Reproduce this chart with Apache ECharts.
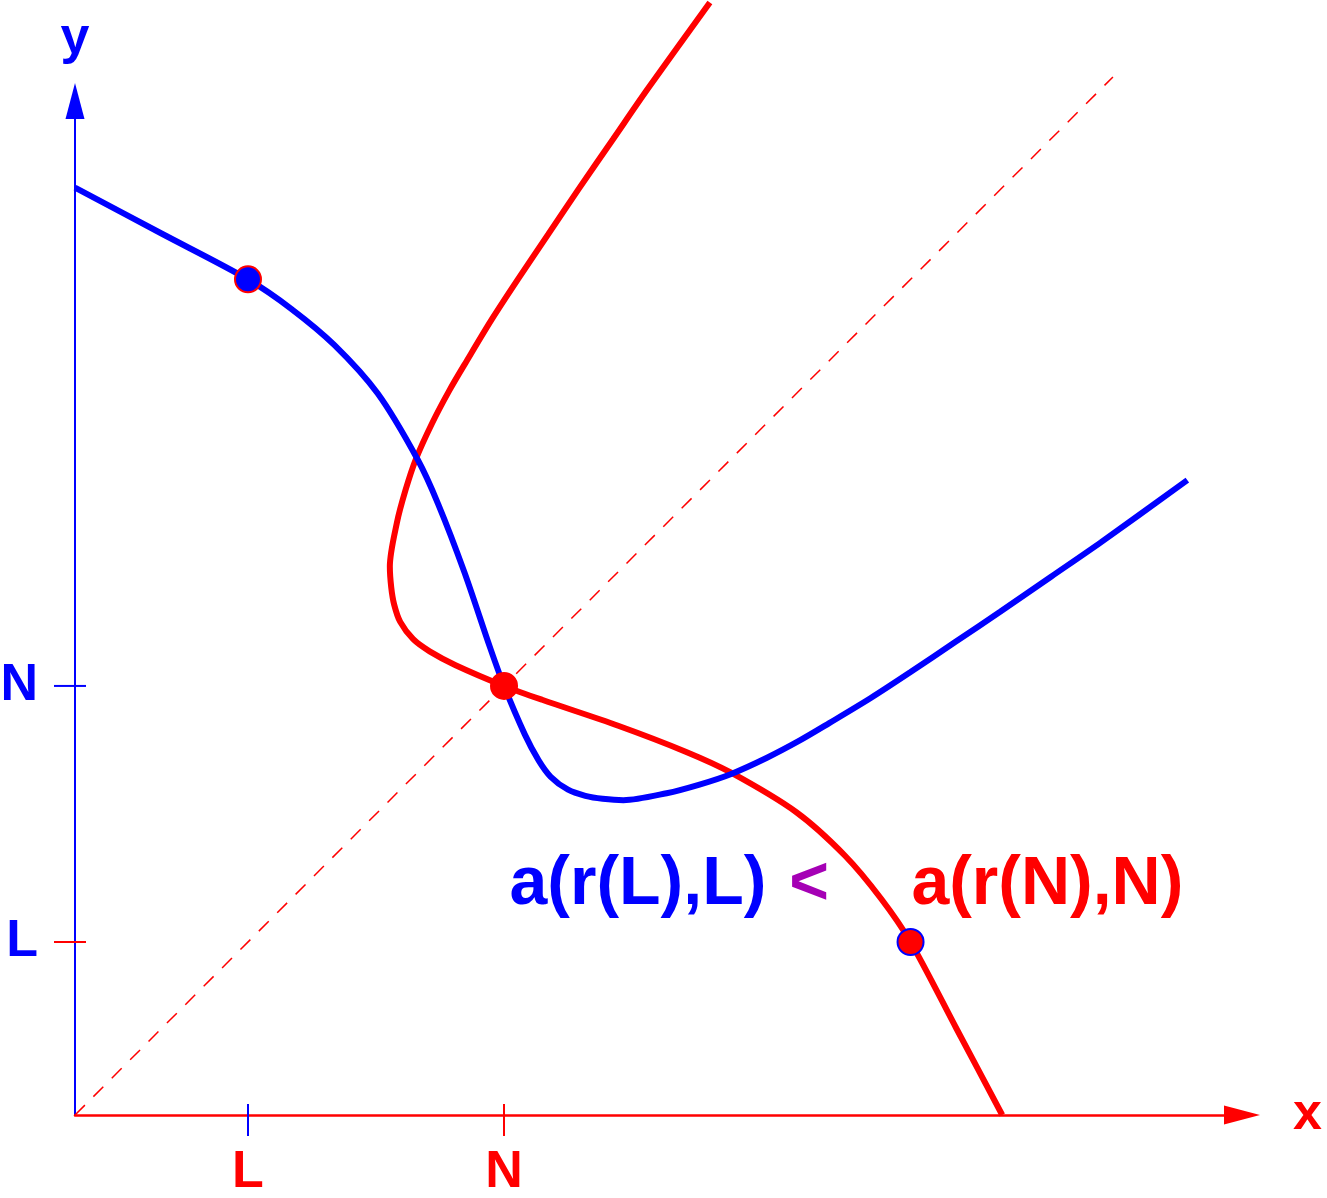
<!DOCTYPE html>
<html>
<head>
<meta charset="utf-8">
<script src="https://cdn.jsdelivr.net/npm/echarts@6/dist/echarts.min.js"></script>
<style>
  html, body { margin: 0; padding: 0; background: #ffffff; }
  #chart { width: 1327px; height: 1198px; }
</style>
</head>
<body>
<div id="chart"></div>
<script>
// Tick positions on both axes
const L = 1.0;
const N = 2.48;

// Axis extents
const X_MAX = 6.746;
const Y_MAX = 5.861;

// Blue curve y(x)
const blueCurve = [
  [0.00, 5.36], [0.50, 5.095], [1.00, 4.83], [1.25, 4.66], [1.50, 4.45],
  [1.75, 4.17], [1.98, 3.79], [2.10, 3.53], [2.25, 3.14], [2.40, 2.70],
  [2.48, 2.48], [2.60, 2.20], [2.68, 2.05], [2.75, 1.955], [2.85, 1.88],
  [2.95, 1.845], [3.05, 1.828], [3.17, 1.82], [3.42, 1.86], [3.61, 1.91],
  [3.79, 1.97], [4.00, 2.065], [4.19, 2.165], [4.36, 2.265], [4.60, 2.41],
  [4.83, 2.56], [5.09, 2.735], [5.35, 2.91], [5.64, 3.11], [5.93, 3.31],
  [6.43, 3.67]
];

// Red curve x(y)
const redCurve = [
  [3.67, 6.43], [3.31, 5.93], [3.11, 5.64], [2.91, 5.35], [2.735, 5.09],
  [2.56, 4.83], [2.41, 4.60], [2.265, 4.36], [2.165, 4.19], [2.065, 4.00],
  [1.97, 3.79], [1.91, 3.61], [1.86, 3.42], [1.82, 3.17], [1.828, 3.05],
  [1.845, 2.95], [1.88, 2.85], [1.955, 2.75], [2.05, 2.68], [2.20, 2.60],
  [2.48, 2.48], [2.70, 2.40], [3.14, 2.25], [3.53, 2.10], [3.79, 1.98],
  [4.17, 1.75], [4.45, 1.50], [4.66, 1.25], [4.83, 1.00], [5.095, 0.50],
  [5.36, 0.00]
];

// Dashed diagonal y = x
const diagonal = [[0, 0], [6.0, 6.0]];

// Highlighted points
const markedPoints = [
  { value: [L, 4.83], fill: '#0000ff', border: '#ff0000' },
  { value: [N, N], fill: '#ff0000', border: '#ff0000' },
  { value: [4.83, L], fill: '#ff0000', border: '#0000ff' }
];

// Axis tick labels
const xTickValues = [L, N];
const xTickLabels = ['L', 'N'];
const yTickValues = [L, N];
const yTickLabels = ['L', 'N'];

// Tick marks: [value, axis, colour]
const tickMarks = [
  [L, 'x', '#0000ff'],
  [N, 'x', '#ff0000'],
  [N, 'y', '#0000ff'],
  [L, 'y', '#ff0000']
];

// Inequality annotation
const notes = [
  { value: [3.254, 1.33], name: 'a(r(L),L)', color: '#0000ff' },
  { value: [4.243, 1.33], name: '<', color: '#a500b5' },
  { value: [5.621, 1.33], name: 'a(r(N),N)', color: '#ff0000' }
];

const FONT = '"Liberation Sans", Arial, Helvetica, sans-serif';
const RED = '#ff0000';
const BLUE = '#0000ff';

const chart = echarts.init(document.getElementById('chart'), null, { renderer: 'canvas' });

chart.setOption({
  backgroundColor: '#ffffff',
  animation: false,
  grid: {
    left: 75, right: 85, top: 101, bottom: 83,
    containLabel: false, outerBoundsMode: 'none'
  },
  xAxis: {
    type: 'value', min: 0, max: X_MAX,
    splitLine: { show: false },
    axisTick: { show: false },
    axisLine: {
      show: true, onZero: false,
      symbol: ['none', 'triangle'], symbolSize: [19, 36],
      lineStyle: { color: RED, width: 2.5 }
    },
    axisLabel: {
      customValues: xTickValues,
      formatter: v => xTickLabels[xTickValues.indexOf(v)],
      color: RED, fontSize: 52, fontWeight: 'bold', fontFamily: FONT,
      margin: 58, verticalAlign: 'middle'
    },
    name: 'x', nameLocation: 'end', nameGap: 51,
    nameTextStyle: { color: RED, fontSize: 52, fontWeight: 'bold', fontFamily: FONT, verticalAlign: 'middle' }
  },
  yAxis: {
    type: 'value', min: 0, max: Y_MAX,
    splitLine: { show: false },
    axisTick: { show: false },
    axisLine: {
      show: true, onZero: false,
      symbol: ['none', 'triangle'], symbolSize: [19, 36],
      lineStyle: { color: BLUE, width: 2 }
    },
    axisLabel: {
      customValues: yTickValues,
      formatter: v => yTickLabels[yTickValues.indexOf(v)],
      color: BLUE, fontSize: 52, fontWeight: 'bold', fontFamily: FONT,
      margin: 37, verticalAlign: 'middle'
    },
    name: 'y', nameLocation: 'end', nameGap: 36,
    nameTextStyle: { color: BLUE, fontSize: 52, fontWeight: 'bold', fontFamily: FONT }
  },
  series: [
    {
      name: 'diagonal', type: 'line', data: diagonal, clip: false,
      showSymbol: false, silent: true,
      lineStyle: { color: RED, width: 1.5, type: [14, 12] }
    },
    {
      name: 'red', type: 'line', data: redCurve, clip: false,
      smooth: 0.3, smoothConstraint: false, showSymbol: false, silent: true,
      lineStyle: { color: RED, width: 6 }
    },
    {
      name: 'blue', type: 'line', data: blueCurve, clip: false,
      smooth: 0.3, smoothConstraint: false, showSymbol: false, silent: true,
      lineStyle: { color: BLUE, width: 6 }
    },
    {
      name: 'ticks', type: 'custom', clip: false, silent: true,
      data: tickMarks.map(t => (t[1] === 'x' ? [t[0], 0] : [0, t[0]])),
      renderItem: function (params, api) {
        const t = tickMarks[params.dataIndex];
        const p = api.coord([api.value(0), api.value(1)]);
        const shape = t[1] === 'x'
          ? { x1: p[0], y1: p[1] - 11, x2: p[0], y2: p[1] + 21 }
          : { x1: p[0] - 21, y1: p[1], x2: p[0] + 11, y2: p[1] };
        return { type: 'line', shape: shape, style: { stroke: t[2], lineWidth: 2 } };
      }
    },
    {
      name: 'points', type: 'scatter', clip: false, silent: true,
      symbolSize: 26, z: 5,
      data: markedPoints.map(p => ({
        value: p.value,
        itemStyle: { color: p.fill, borderColor: p.border, borderWidth: 2, opacity: 1 }
      }))
    },
    {
      name: 'notes', type: 'scatter', clip: false, silent: true,
      symbolSize: 1, itemStyle: { color: 'rgba(0,0,0,0)', opacity: 1 },
      data: notes.map(n => ({
        value: n.value, name: n.name,
        label: {
          show: true, position: 'inside', formatter: '{b}',
          color: n.color, fontSize: 68, fontWeight: 'bold', fontFamily: FONT
        }
      }))
    }
  ]
});
</script>
</body>
</html>
